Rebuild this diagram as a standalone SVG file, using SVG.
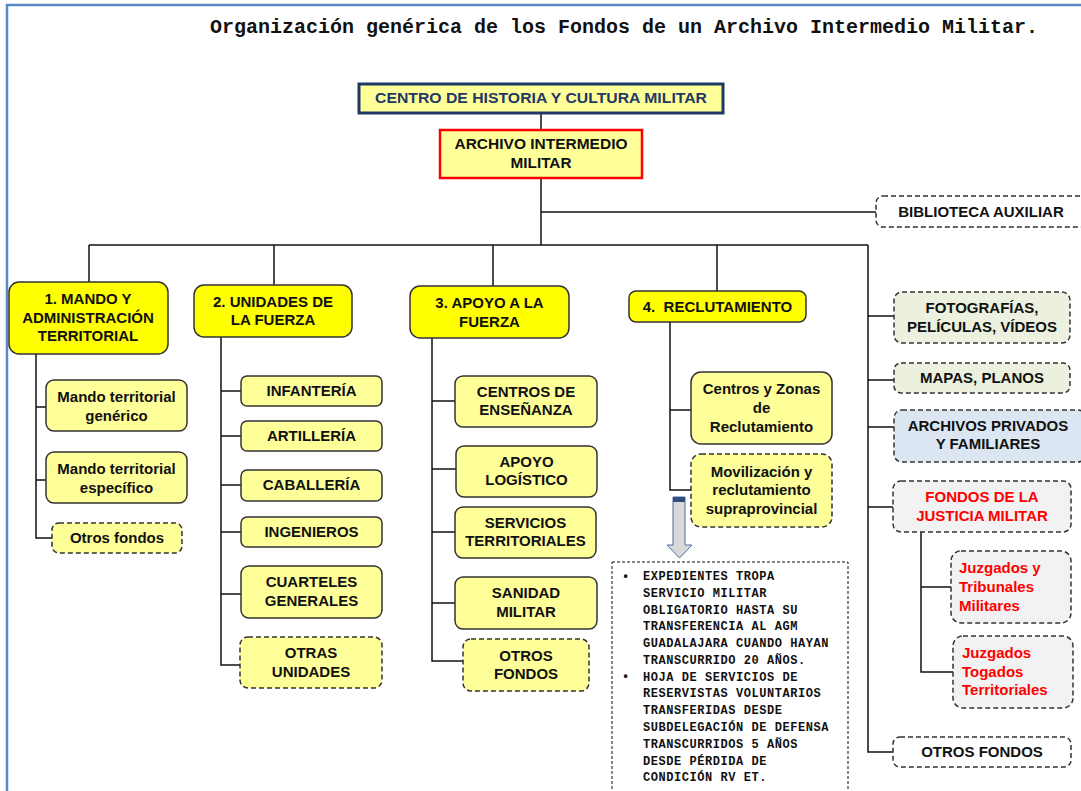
<svg xmlns="http://www.w3.org/2000/svg" width="1081" height="791" viewBox="0 0 1081 791">
<style>
  .t{font-family:"Liberation Sans",Arial,sans-serif;font-weight:bold;font-size:15px;fill:#111;text-anchor:middle}
  .tl{text-anchor:start}
  .red{fill:#ff0000}
  .hdr{fill:#ffff00;stroke:#333;stroke-width:1.5}
  .sub{fill:#ffff99;stroke:#333;stroke-width:1.5}
  .dash{stroke-dasharray:5 3}
  .conn{fill:none;stroke:#111;stroke-width:1.5}
  .mono{font-family:"Liberation Mono","DejaVu Sans Mono",monospace;font-weight:bold;font-size:12px;letter-spacing:0.55px;fill:#111}
</style>
<rect width="1081" height="791" fill="#fff"/>
<g id="frame" fill="none" stroke="#5a8ac6" stroke-width="2.5">
  <path d="M7 791 V5 H1081"/>
</g>
<text x="210" y="33" font-family="'Liberation Mono','DejaVu Sans Mono',monospace" font-weight="bold" font-size="20" fill="#111" textLength="828" lengthAdjust="spacingAndGlyphs">Organización genérica de los Fondos de un Archivo Intermedio Militar.</text>

<g id="connectors" class="conn">
  <path d="M541 113 V130"/>
  <path d="M541 178 V245"/>
  <path d="M541 212 H876"/>
  <path d="M89 245 H868"/>
  <path d="M89 245 V282 M274 245 V285 M493 245 V286 M717 245 V291"/>
  <path d="M868 245 V752 H893"/>
  <path d="M868 316 H894 M868 380 H894 M868 427 H894 M868 507 H893"/>
  <path d="M921 532 V672 H953 M921 587 H951"/>
  <path d="M36 354 V538 H52 M36 407 H46 M36 480 H46"/>
  <path d="M221 337 V665 H240 M221 391 H241 M221 436 H241 M221 485 H241 M221 532 H241 M221 594 H241"/>
  <path d="M432 338 V661 H463 M432 401 H455 M432 469 H456 M432 532 H455 M432 603 H455"/>
  <path d="M670 322 V490 H691 M670 410 H691"/>
</g>

<g id="centro">
  <rect x="359" y="84" width="364" height="29" fill="#ffff99" stroke="#1f3864" stroke-width="3"/>
  <text class="t" x="541" y="103" style="fill:#1f3864" textLength="332" lengthAdjust="spacingAndGlyphs">CENTRO DE HISTORIA Y CULTURA MILITAR</text>
</g>
<g id="archivo">
  <rect x="440" y="130" width="202" height="48" fill="#ffff99" stroke="#ff0000" stroke-width="2.5"/>
  <text class="t" x="541" y="148.5" textLength="173" lengthAdjust="spacingAndGlyphs">ARCHIVO INTERMEDIO</text>
  <text class="t" x="541" y="167.5" textLength="61" lengthAdjust="spacingAndGlyphs">MILITAR</text>
</g>
<g id="biblioteca">
  <rect class="dash" x="876" y="196" width="216" height="31" rx="7" fill="#fff" stroke="#333" stroke-width="1.5"/>
  <text class="t" x="981" y="217">BIBLIOTECA AUXILIAR</text>
</g>

<g id="mando">
  <rect class="hdr" x="9" y="282" width="159" height="72" rx="10"/>
  <text class="t" x="88" y="304">1. MANDO Y</text>
  <text class="t" x="88" y="323">ADMINISTRACIÓN</text>
  <text class="t" x="88" y="341">TERRITORIAL</text>
</g>
<g id="mando-generico">
  <rect class="sub" x="46" y="380" width="141" height="51" rx="8"/>
  <text class="t" x="116.5" y="402">Mando territorial</text>
  <text class="t" x="116.5" y="421">genérico</text>
</g>
<g id="mando-especifico">
  <rect class="sub" x="46" y="452" width="141" height="51" rx="8"/>
  <text class="t" x="116.5" y="474">Mando territorial</text>
  <text class="t" x="116.5" y="493">específico</text>
</g>
<g id="mando-otros">
  <rect class="sub dash" x="52" y="523" width="130" height="30" rx="7"/>
  <text class="t" x="117" y="543">Otros fondos</text>
</g>

<g id="unidades">
  <rect class="hdr" x="194" y="285" width="158" height="52" rx="10"/>
  <text class="t" x="273" y="307">2. UNIDADES DE</text>
  <text class="t" x="273" y="325">LA FUERZA</text>
</g>
<g id="infanteria"><rect class="sub" x="241" y="376" width="141" height="30" rx="6"/><text class="t" x="311.5" y="396">INFANTERÍA</text></g>
<g id="artilleria"><rect class="sub" x="241" y="421" width="141" height="30" rx="6"/><text class="t" x="311.5" y="441">ARTILLERÍA</text></g>
<g id="caballeria"><rect class="sub" x="241" y="470" width="141" height="31" rx="6"/><text class="t" x="311.5" y="490">CABALLERÍA</text></g>
<g id="ingenieros"><rect class="sub" x="241" y="517" width="141" height="30" rx="6"/><text class="t" x="311.5" y="537">INGENIEROS</text></g>
<g id="cuarteles"><rect class="sub" x="241" y="566" width="141" height="52" rx="8"/><text class="t" x="311.5" y="587">CUARTELES</text><text class="t" x="311.5" y="606">GENERALES</text></g>
<g id="otras-unidades"><rect class="sub dash" x="240" y="637" width="142" height="51" rx="8"/><text class="t" x="311" y="658">OTRAS</text><text class="t" x="311" y="677">UNIDADES</text></g>

<g id="apoyo">
  <rect class="hdr" x="410" y="286" width="159" height="52" rx="10"/>
  <text class="t" x="489.5" y="308">3. APOYO A LA</text>
  <text class="t" x="489.5" y="327">FUERZA</text>
</g>
<g id="ensenanza"><rect class="sub" x="455" y="376" width="142" height="51" rx="8"/><text class="t" x="526" y="397">CENTROS DE</text><text class="t" x="526" y="415">ENSEÑANZA</text></g>
<g id="logistico"><rect class="sub" x="456" y="446" width="141" height="51" rx="8"/><text class="t" x="526.5" y="467">APOYO</text><text class="t" x="526.5" y="485">LOGÍSTICO</text></g>
<g id="servicios"><rect class="sub" x="455" y="507" width="141" height="51" rx="8"/><text class="t" x="525.5" y="528">SERVICIOS</text><text class="t" x="525.5" y="546">TERRITORIALES</text></g>
<g id="sanidad"><rect class="sub" x="455" y="577" width="142" height="52" rx="8"/><text class="t" x="526" y="598">SANIDAD</text><text class="t" x="526" y="617">MILITAR</text></g>
<g id="apoyo-otros"><rect class="sub dash" x="463" y="639" width="126" height="52" rx="8"/><text class="t" x="526" y="661">OTROS</text><text class="t" x="526" y="679">FONDOS</text></g>

<g id="reclutamiento">
  <rect class="hdr" x="629" y="291" width="177" height="31" rx="7"/>
  <text class="t" x="717.5" y="312" xml:space="preserve">4.  RECLUTAMIENTO</text>
</g>
<g id="centros-zonas"><rect class="sub" x="691" y="372" width="141" height="72" rx="10"/><text class="t" x="761.5" y="394">Centros y Zonas</text><text class="t" x="761.5" y="413">de</text><text class="t" x="761.5" y="432">Reclutamiento</text></g>
<g id="movilizacion"><rect class="sub dash" x="691" y="454" width="141" height="73" rx="10"/><text class="t" x="761.5" y="477">Movilización y</text><text class="t" x="761.5" y="495">reclutamiento</text><text class="t" x="761.5" y="514">supraprovincial</text></g>

<g id="flecha">
  <path d="M673 497 H685 V545 H692 L679.5 558 L667 545 H673 Z" fill="#d9d9d9" stroke="#4f6fa0" stroke-width="1"/>
  <rect x="673" y="497" width="12" height="5" fill="#2f4f80"/>
</g>
<g id="nota">
  <rect x="612" y="562" width="236" height="240" fill="#fff" stroke="#111" stroke-width="1" stroke-dasharray="3 2"/>
  <text class="mono" x="622" y="580">•</text>
  <text class="mono" x="622" y="680">•</text>
  <text class="mono" x="643" y="580">EXPEDIENTES TROPA</text>
  <text class="mono" x="643" y="596.8">SERVICIO MILITAR</text>
  <text class="mono" x="643" y="613.5">OBLIGATORIO HASTA SU</text>
  <text class="mono" x="643" y="630.3">TRANSFERENCIA AL AGM</text>
  <text class="mono" x="643" y="647.1">GUADALAJARA CUANDO HAYAN</text>
  <text class="mono" x="643" y="663.9">TRANSCURRIDO 20 AÑOS.</text>
  <text class="mono" x="643" y="680.6">HOJA DE SERVICIOS DE</text>
  <text class="mono" x="643" y="697.4">RESERVISTAS VOLUNTARIOS</text>
  <text class="mono" x="643" y="714.2">TRANSFERIDAS DESDE</text>
  <text class="mono" x="643" y="731">SUBDELEGACIÓN DE DEFENSA</text>
  <text class="mono" x="643" y="747.7">TRANSCURRIDOS 5 AÑOS</text>
  <text class="mono" x="643" y="764.5">DESDE PÉRDIDA DE</text>
  <text class="mono" x="643" y="781.3">CONDICIÓN RV ET.</text>
</g>

<g id="fotografias"><rect class="dash" x="894" y="292" width="176" height="51" rx="8" fill="#ebf1de" stroke="#333" stroke-width="1.5"/><text class="t" x="982" y="313">FOTOGRAFÍAS,</text><text class="t" x="982" y="332">PELÍCULAS, VÍDEOS</text></g>
<g id="mapas"><rect class="dash" x="894" y="363" width="176" height="30" rx="7" fill="#ebf1de" stroke="#333" stroke-width="1.5"/><text class="t" x="982" y="383">MAPAS, PLANOS</text></g>
<g id="privados"><rect class="dash" x="894" y="410" width="192" height="52" rx="8" fill="#dce6f2" stroke="#333" stroke-width="1.5"/><text class="t" x="988" y="431">ARCHIVOS  PRIVADOS</text><text class="t" x="988" y="449">Y FAMILIARES</text></g>
<g id="justicia"><rect class="dash" x="893" y="481" width="178" height="51" rx="8" fill="#f2f2f2" stroke="#333" stroke-width="1.5"/><text class="t red" x="982" y="502">FONDOS DE LA</text><text class="t red" x="982" y="521">JUSTICIA MILITAR</text></g>
<g id="juzgados-tribunales"><rect class="dash" x="951" y="551" width="120" height="72" rx="10" fill="#f2f2f2" stroke="#333" stroke-width="1.5"/><text class="t tl red" x="959" y="573">Juzgados y</text><text class="t tl red" x="959" y="592">Tribunales</text><text class="t tl red" x="959" y="611">Militares</text></g>
<g id="juzgados-togados"><rect class="dash" x="953" y="636" width="120" height="72" rx="10" fill="#f2f2f2" stroke="#333" stroke-width="1.5"/><text class="t tl red" x="962" y="658">Juzgados</text><text class="t tl red" x="962" y="677">Togados</text><text class="t tl red" x="962" y="695">Territoriales</text></g>
<g id="otros-fondos"><rect class="dash" x="893" y="737" width="178" height="30" rx="7" fill="#fff" stroke="#333" stroke-width="1.5"/><text class="t" x="982" y="757">OTROS FONDOS</text></g>
</svg>
